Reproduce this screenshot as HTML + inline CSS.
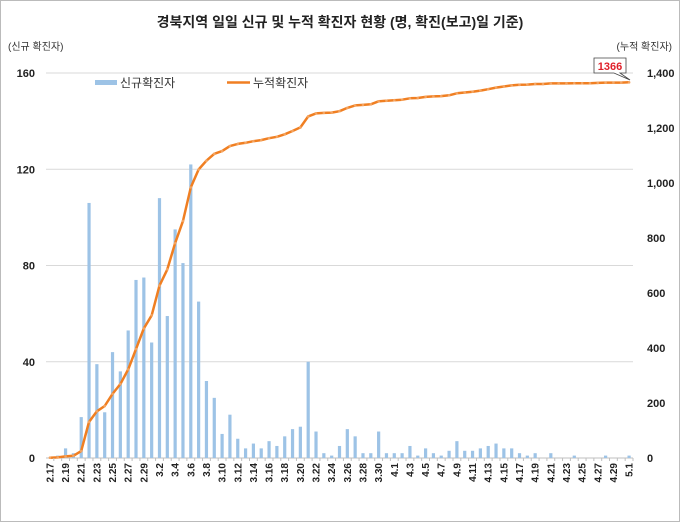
<!DOCTYPE html>
<html><head><meta charset="utf-8"><style>
html,body{margin:0;padding:0;background:#fff}
svg{display:block}
text{font-family:"Liberation Sans","Noto Sans CJK KR",sans-serif}
</style></head><body>
<svg id="chart" width="680" height="522" xmlns="http://www.w3.org/2000/svg">
<rect x="0.5" y="0.5" width="679" height="521" fill="#fff" stroke="#bbb"/>
<text x="340" y="27" text-anchor="middle" font-size="14" font-weight="bold" fill="#222">경북지역 일일 신규 및 누적 확진자 현황 (명, 확진(보고)일 기준)</text>
<text x="8" y="50" font-size="10" fill="#333">(신규 확진자)</text>
<text x="672" y="50" text-anchor="end" font-size="10" fill="#333">(누적 확진자)</text>
<g id="grid"></g><g id="bars"></g><g id="line"></g><g id="axes"></g>
<g>
<rect x="95" y="80" width="22" height="5" fill="#9dc3e6"/>
<text x="120" y="87" font-size="12" fill="#333">신규확진자</text>
<line x1="227" y1="82.5" x2="250" y2="82.5" stroke="#f07f22" stroke-width="2.5"/>
<text x="253" y="87" font-size="12" fill="#333">누적확진자</text>
</g>
<g>
<polygon points="594,58 626,58 626,73 620,73 630,80 614,73 594,73" fill="#fff" stroke="#444" stroke-width="0.8"/>
<text x="610" y="70" text-anchor="middle" font-size="11" font-weight="bold" fill="#e0202a">1366</text>
</g>
</svg>
<script>
const dates=["2.17","2.18","2.19","2.20","2.21","2.22","2.23","2.24","2.25","2.26","2.27","2.28","2.29","3.1","3.2","3.3","3.4","3.5","3.6","3.7","3.8","3.9","3.10","3.11","3.12","3.13","3.14","3.15","3.16","3.17","3.18","3.19","3.20","3.21","3.22","3.23","3.24","3.25","3.26","3.27","3.28","3.29","3.30","3.31","4.1","4.2","4.3","4.4","4.5","4.6","4.7","4.8","4.9","4.10","4.11","4.12","4.13","4.14","4.15","4.16","4.17","4.18","4.19","4.20","4.21","4.22","4.23","4.24","4.25","4.26","4.27","4.28","4.29","4.30","5.1"];
const daily=[0,1,4,2,17,106,39,19,44,36,53,74,75,48,108,59,95,81,122,65,32,25,10,18,8,4,6,4,7,5,9,12,13,40,11,2,1,5,12,9,2,2,11,2,2,2,5,1,4,2,1,3,7,3,3,4,5,6,4,4,2,1,2,0,2,0,0,1,0,0,0,1,0,0,1];
const cumulative=[1,2,6,8,25,131,170,189,233,269,322,396,471,519,627,686,781,862,984,1049,1081,1106,1116,1134,1142,1146,1152,1156,1163,1168,1177,1189,1202,1242,1253,1255,1256,1261,1273,1282,1284,1286,1297,1299,1301,1303,1308,1309,1313,1315,1316,1319,1326,1329,1332,1336,1341,1347,1351,1355,1357,1358,1360,1360,1362,1362,1362,1363,1363,1363,1364,1365,1365,1365,1366];
const leftTicks=[0,40,80,120,160];
const rightTicks=[0,200,400,600,800,1000,1200,1400];
const rightTickLabels=["0","200","400","600","800","1,000","1,200","1,400"];
const NS="http://www.w3.org/2000/svg";
const X0=46,X1=633,Y0=458,Y1=73;
const step=(X1-X0)/dates.length;
function xC(i){return X0+step*(i+0.5);}
function yL(v){return Y0-(v/160)*(Y0-Y1);}
function yR(v){return Y0-(v/1400)*(Y0-Y1);}
function mk(tag,attrs,parent){const e=document.createElementNS(NS,tag);for(const k in attrs)e.setAttribute(k,attrs[k]);parent.appendChild(e);return e;}
const grid=document.getElementById('grid'),bars=document.getElementById('bars'),line=document.getElementById('line'),axes=document.getElementById('axes');
leftTicks.forEach(t=>{
  const g=mk('line',{x1:X0,x2:X1,y1:yL(t),y2:yL(t),stroke:t===0?'#bfbfbf':'#d9d9d9','stroke-width':1},grid);
  
  
  const tx=mk('text',{x:35,y:yL(t)+4,'text-anchor':'end','font-size':11,'font-weight':'bold',fill:'#222'},axes);
  tx.textContent=t;
  
  
});
rightTicks.forEach((t,i)=>{
  const tx=mk('text',{x:647,y:yR(t)+4,'font-size':11,'font-weight':'bold',fill:'#222'},axes);
  tx.textContent=rightTickLabels[i];
  
  
});
daily.forEach((v,i)=>{
  const r=mk('rect',{x:xC(i)-1.6,y:yL(v),width:3.2,height:Y0-yL(v),fill:'#9dc3e6'},bars);
  
  
});
const pts=cumulative.map((v,i)=>xC(i).toFixed(1)+','+yR(v).toFixed(1)).join(' ');
const pl=mk('polyline',{points:pts,fill:'none',stroke:'#f07f22','stroke-width':2.5,'stroke-linejoin':'round'},line);


cumulative.forEach((v,i)=>{
  const c=mk('circle',{cx:xC(i),cy:yR(v),r:1.3,fill:'#f4a460'},line);
  
  
});
dates.forEach((d,i)=>{
  mk('line',{x1:xC(i)+step/2,x2:xC(i)+step/2,y1:Y0,y2:Y0+3,stroke:'#bfbfbf'},axes);
  if(i%2===0){
    const tx=mk('text',{x:0,y:0,'text-anchor':'end','font-size':10,'font-weight':'bold',fill:'#222',transform:'translate('+(xC(i)+3.5)+','+(Y0+5)+') rotate(-90)'},axes);
    tx.textContent=d;
    
    
  }
});
</script>
</body></html>
